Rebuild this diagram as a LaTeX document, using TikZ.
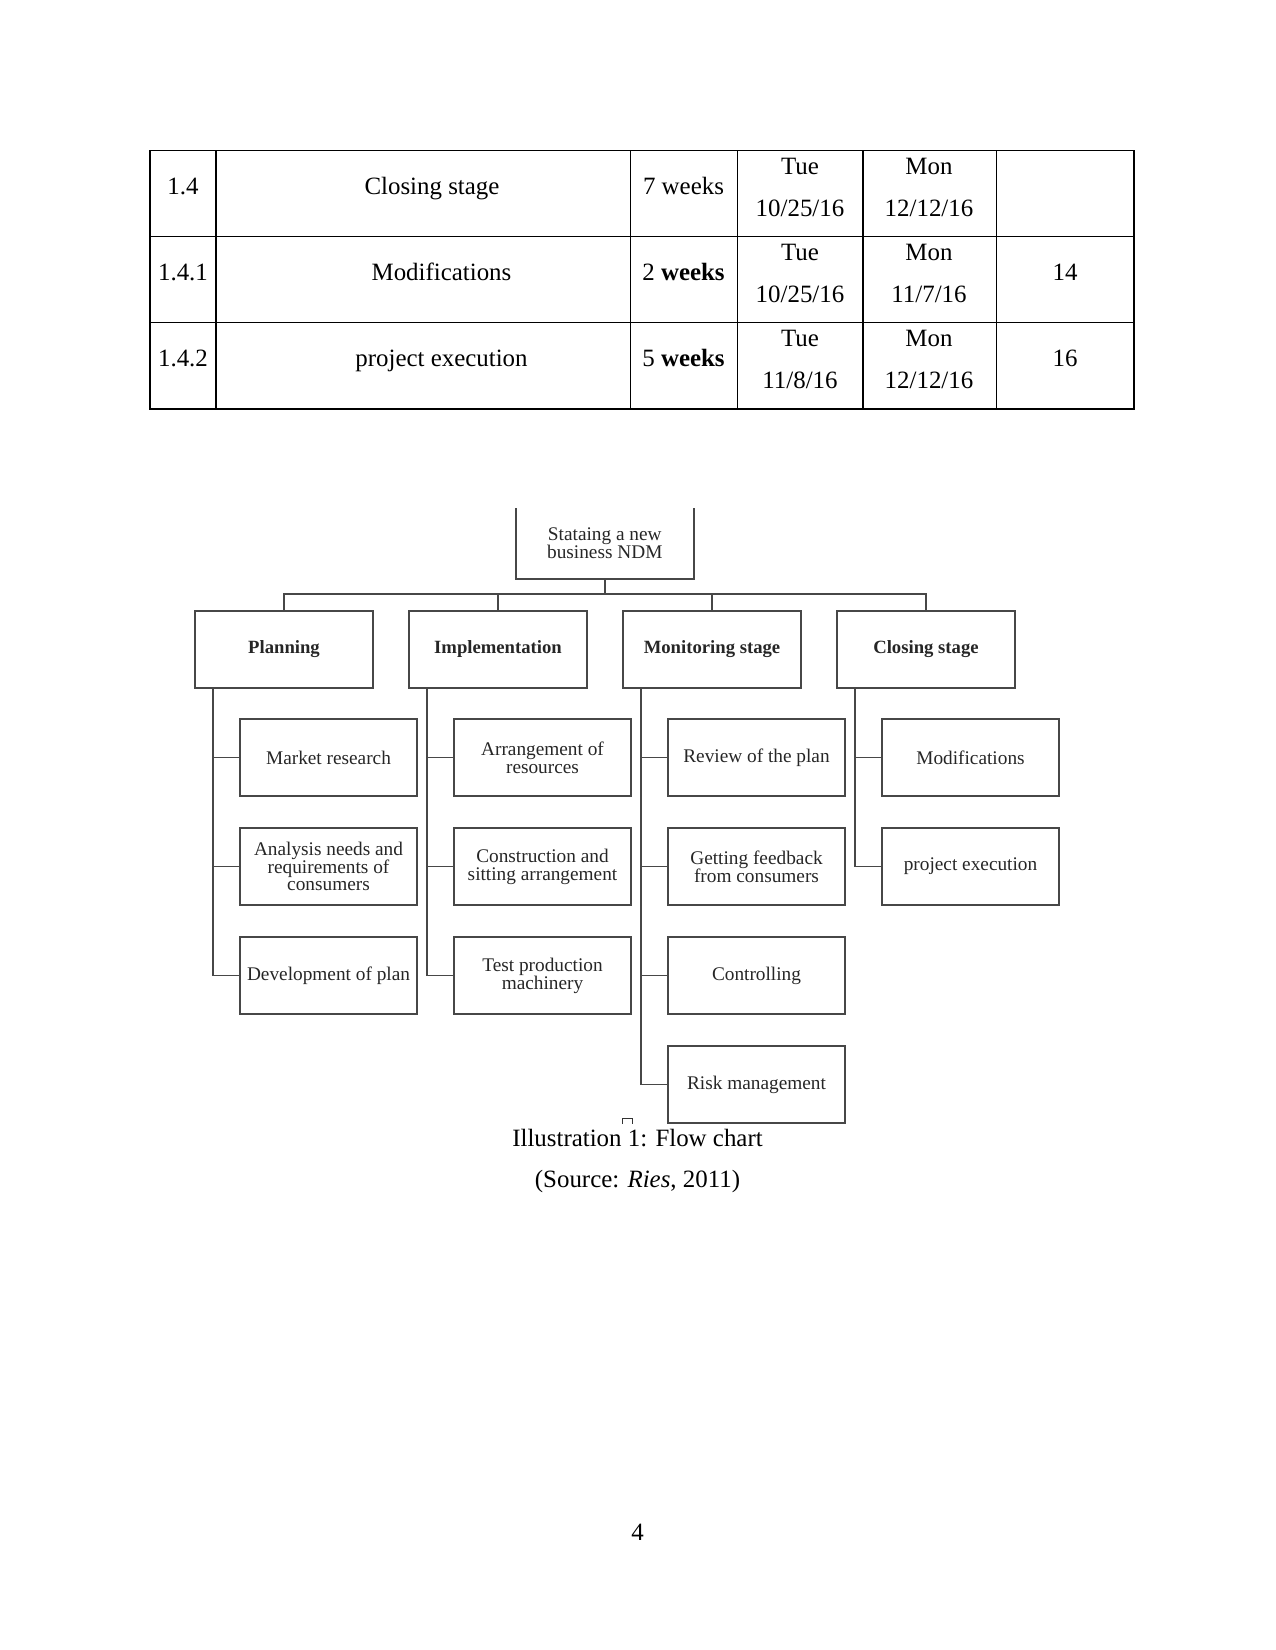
\documentclass[tikz,border=0pt]{standalone}
\usepackage{fontspec}
\setmainfont{Liberation Serif}
\usetikzlibrary{
	positioning,
	calc
}

\begin{document}
\begin{tikzpicture}[
  x=0.4818pt, y=-0.4818pt,
  grid/.style={line width=0.6pt, black},
  cell/.style={anchor=base, inner sep=0pt, font=\fontsize{12}{14}\selectfont},
  boxline/.style={line width=0.9pt, black!72},
  rootbox/.style={rectangle, align=center, minimum width=85.6pt,
    minimum height=34.1pt, inner sep=1pt, outer sep=0pt, text=black!85,
    font=\fontsize{9.3}{8.7}\selectfont},
  stagebox/.style={rectangle, draw=black!72, line width=0.9pt, align=center,
    minimum width=85.8pt, minimum height=37.1pt, inner sep=1pt, outer sep=0pt,
    text=black!85, font=\fontsize{9}{10}\selectfont\bfseries},
  kidbox/.style={rectangle, draw=black!72, line width=0.9pt, align=center,
    minimum width=85.3pt, minimum height=37.1pt, inner sep=1pt, outer sep=0pt,
    text=black!85, font=\fontsize{9.3}{8.6}\selectfont},
  link/.style={line width=0.9pt, black!72}
]
\useasboundingbox (0,0) rectangle (1275,1650);

% table
\draw[grid] (150,150.7) rectangle (1134,409);
\foreach \y in {236.7,322.7}
  \draw[grid] (150,\y) -- (1134,\y);
\foreach \x in {216,630.5,737.5,863,996.5}
  \draw[grid] (\x,150.7) -- (\x,409);

\node[cell] (id1) at (183,195) {1.4};
\node[cell] (task1) at (432,195) {Closing stage};
\node[cell] (dur1) at (683.5,195) {7 weeks};
\node[cell] (st1a) at (800,175) {Tue};
\node[cell] (st1b) at (800,216.7) {10/25/16};
\node[cell] (fi1a) at (929,175) {Mon};
\node[cell] (fi1b) at (929,216.7) {12/12/16};

\node[cell] (id2) at (183,281) {1.4.1};
\node[cell] (task2) at (441.5,281) {Modifications};
\node[cell] (dur2) at (683.5,281) {2 \textbf{weeks}};
\node[cell] (st2a) at (800,261) {Tue};
\node[cell] (st2b) at (800,302.7) {10/25/16};
\node[cell] (fi2a) at (929,261) {Mon};
\node[cell] (fi2b) at (929,302.7) {11/7/16};
\node[cell] (pre2) at (1065,281) {14};

\node[cell] (id3) at (183,367) {1.4.2};
\node[cell] (task3) at (441.5,367) {project execution};
\node[cell] (dur3) at (683.5,367) {5 \textbf{weeks}};
\node[cell] (st3a) at (800,347) {Tue};
\node[cell] (st3b) at (800,388.7) {11/8/16};
\node[cell] (fi3a) at (929,347) {Mon};
\node[cell] (fi3b) at (929,388.7) {12/12/16};
\node[cell] (pre3) at (1065,367) {16};

% flow chart
\node[rootbox] (root) at (604.8,543.4) {Stataing a new\\business NDM};
\draw[boxline] (root.north west) |- (root.south east) -- (root.north east);

\node[stagebox] (plan) at (284,649.2) {Planning};
\node[stagebox, right=17.3pt of plan] (impl) {Implementation};
\node[stagebox, right=17.3pt of impl] (mon) {Monitoring stage};
\node[stagebox, right=17.3pt of mon] (clo) {Closing stage};

\node[kidbox, below right=15.1pt and 21.7pt of plan.south west] (mkt) {Market research};
\node[kidbox, below=15.4pt of mkt] (anl) {Analysis needs and\\requirements of\\consumers};
\node[kidbox, below=15.4pt of anl] (dev) {Development of plan};

\node[kidbox, below right=15.1pt and 21.7pt of impl.south west] (arr) {Arrangement of\\resources};
\node[kidbox, below=15.4pt of arr] (con) {Construction and\\sitting arrangement};
\node[kidbox, below=15.4pt of con] (tst) {Test production\\machinery};

\node[kidbox, below right=15.1pt and 21.7pt of mon.south west] (rev) {Review of the plan};
\node[kidbox, below=15.4pt of rev] (fdb) {Getting feedback\\from consumers};
\node[kidbox, below=15.4pt of fdb] (ctl) {Controlling};
\node[kidbox, below=15.4pt of ctl] (rsk) {Risk management};

\node[kidbox, below right=15.1pt and 21.7pt of clo.south west] (mod) {Modifications};
\node[kidbox, below=15.4pt of mod] (exe) {project execution};

\draw[link] (root.south) -- ++(0,-7.5pt) coordinate (bus);
\foreach \s in {plan,impl,mon,clo}
  \draw[link] (bus) -| (\s.north);

\foreach \s/\kids in {plan/{mkt,anl,dev}, impl/{arr,con,tst},
    mon/{rev,fdb,ctl,rsk}, clo/{mod,exe}}
  \foreach \k in \kids
    \draw[link] ([xshift=8.7pt]\s.south west) |- (\k.west);

% anchor mark
\draw[line width=0.6pt, black!80] (622.7,1124) |- (632.7,1118.3) -- (632.7,1124);

% caption
\node[cell] (cap) at (637.5,1146.7) {Illustration 1: Flow chart};
\node[cell] (src) at (637.5,1187) {(Source: \textit{Ries}, 2011)};
\node[cell] (pgno) at (637.5,1540) {4};
\end{tikzpicture}
\end{document}
